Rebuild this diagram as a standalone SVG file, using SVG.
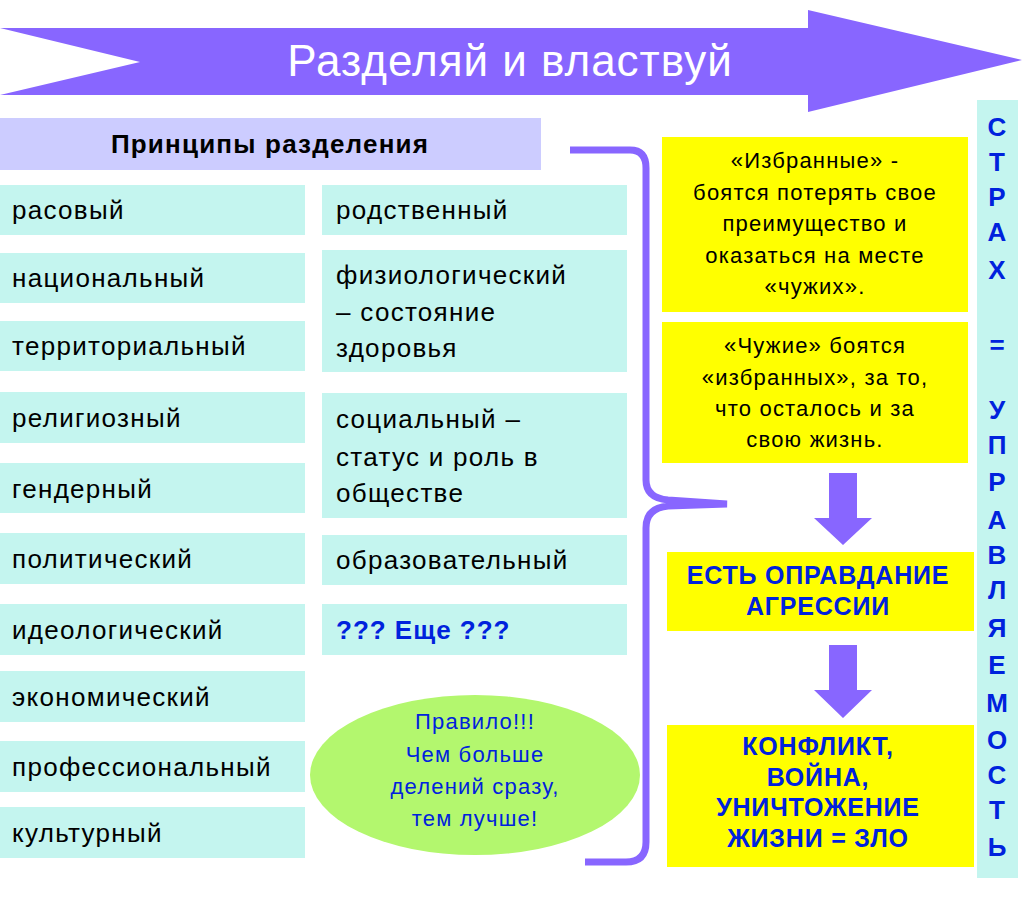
<svg xmlns="http://www.w3.org/2000/svg" width="1024" height="897" viewBox="0 0 1024 897">
<style>
text{font-family:"Liberation Sans",Arial,sans-serif}
.c{fill:#c4f5ef}
.t{font-size:26px;letter-spacing:1.3px;fill:#000}
.y{fill:#ffff00}
.yt{font-size:22px;letter-spacing:1.2px;fill:#000;text-anchor:middle}
.bb{font-size:25px;letter-spacing:0.8px;fill:#0022dd;font-weight:bold;text-anchor:middle}
.v{font-size:26px;fill:#0022dd;font-weight:bold;text-anchor:middle}
.p{fill:#8866ff}
</style>
<g id="title"><polygon class="p" points="0,28 808,28 808,10 1022,60 808,112 808,95 0,95 140,62"/>
<text x="510" y="76" font-size="44" letter-spacing="1" fill="#fff" text-anchor="middle">Разделяй и властвуй</text></g>
<g id="header"><rect x="0" y="118" width="541" height="52" fill="#ccccff"/><text x="270" y="153" font-size="26" letter-spacing="1.2" font-weight="bold" text-anchor="middle">Принципы разделения</text></g>
<g id="left">
<rect class="c" x="0" y="185" width="305" height="50"/><text class="t" x="12" y="219">расовый</text>
<rect class="c" x="0" y="253" width="305" height="50"/><text class="t" x="12" y="287">национальный</text>
<rect class="c" x="0" y="321" width="305" height="50"/><text class="t" x="12" y="355">территориальный</text>
<rect class="c" x="0" y="392" width="305" height="51"/><text class="t" x="12" y="427">религиозный</text>
<rect class="c" x="0" y="463" width="305" height="50"/><text class="t" x="12" y="498">гендерный</text>
<rect class="c" x="0" y="533" width="305" height="51"/><text class="t" x="12" y="568">политический</text>
<rect class="c" x="0" y="604" width="305" height="51"/><text class="t" x="12" y="639">идеологический</text>
<rect class="c" x="0" y="671" width="305" height="51"/><text class="t" x="12" y="706">экономический</text>
<rect class="c" x="0" y="741" width="305" height="51"/><text class="t" x="12" y="776">профессиональный</text>
<rect class="c" x="0" y="807" width="305" height="51"/><text class="t" x="12" y="842">культурный</text>
</g>
<g id="right">
<rect class="c" x="322" y="185" width="305" height="50"/><text class="t" x="336" y="219">родственный</text>
<rect class="c" x="322" y="250" width="305" height="122"/><text class="t" x="336" y="284">физиологический</text><text class="t" x="336" y="321">– состояние</text><text class="t" x="336" y="357">здоровья</text>
<rect class="c" x="322" y="393" width="305" height="125"/><text class="t" x="336" y="428">социальный –</text><text class="t" x="336" y="466">статус и роль в</text><text class="t" x="336" y="502">обществе</text>
<rect class="c" x="322" y="535" width="305" height="50"/><text class="t" x="336" y="569">образовательный</text>
<rect class="c" x="322" y="604" width="305" height="51"/><text x="336" y="639" font-size="26" letter-spacing="1" font-weight="bold" fill="#0022dd">??? Еще ???</text>
</g>
<g id="rule"><ellipse cx="475" cy="775" rx="165" ry="80" fill="#b3f76e"/>
<g font-size="22" letter-spacing="1.2" fill="#0022dd" text-anchor="middle"><text x="475" y="729">Правило!!!</text><text x="475" y="762">Чем больше</text><text x="475" y="794">делений сразу,</text><text x="475" y="826">тем лучше!</text></g></g>
<g id="connectors" fill="none" stroke="#8866ff" stroke-width="7">
<path d="M570,150 L630,150 Q646,150 646,168 L646,480 Q646,498 668,500 L727,504 L668,506 Q646,508 646,528 L646,842 Q646,862 626,862 L585,862"/>
<g fill="#8866ff" stroke="none">
<polygon points="829,473 857,473 857,518 872,518 843,545 814,518 829,518"/>
<polygon points="829,645 857,645 857,690 872,690 843,718 814,690 829,690"/>
</g>
</g>
<g id="fear1"><rect class="y" x="662" y="137" width="306" height="175"/>
<text class="yt" x="815" y="168">«Избранные»  -</text><text class="yt" x="815" y="200">боятся потерять свое</text><text class="yt" x="815" y="231">преимущество и</text><text class="yt" x="815" y="263">оказаться на месте</text><text class="yt" x="815" y="294">«чужих».</text></g>
<g id="fear2"><rect class="y" x="662" y="322" width="306" height="141"/>
<text class="yt" x="815" y="353">«Чужие» боятся</text><text class="yt" x="815" y="385">«избранных», за то,</text><text class="yt" x="815" y="416">что осталось и за</text><text class="yt" x="815" y="447">свою жизнь.</text></g>
<g id="justify"><rect class="y" x="667" y="552" width="307" height="79"/>
<text class="bb" x="818" y="584">ЕСТЬ ОПРАВДАНИЕ</text><text class="bb" x="818" y="615">АГРЕССИИ</text></g>
<g id="conflict"><rect class="y" x="667" y="725" width="307" height="142"/>
<text class="bb" x="818" y="755" font-size="26">КОНФЛИКТ,</text><text class="bb" x="818" y="786" font-size="26">ВОЙНА,</text><text class="bb" x="818" y="816" font-size="26">УНИЧТОЖЕНИЕ</text><text class="bb" x="818" y="847" font-size="26">ЖИЗНИ = ЗЛО</text></g>
<g id="fearcol"><rect class="c" x="977" y="100" width="41" height="778"/>
<text class="v" x="997" y="136">С</text><text class="v" x="997" y="171">Т</text><text class="v" x="997" y="206">Р</text><text class="v" x="997" y="241">А</text><text class="v" x="997" y="279">Х</text><text class="v" x="997" y="354">=</text><text class="v" x="997" y="419">У</text><text class="v" x="997" y="454">П</text><text class="v" x="997" y="491">Р</text><text class="v" x="997" y="529">А</text><text class="v" x="997" y="564">В</text><text class="v" x="997" y="599">Л</text><text class="v" x="997" y="637">Я</text><text class="v" x="997" y="674">Е</text><text class="v" x="997" y="712">М</text><text class="v" x="997" y="749">О</text><text class="v" x="997" y="784">С</text><text class="v" x="997" y="819">Т</text><text class="v" x="997" y="856">Ь</text></g>
</svg>
